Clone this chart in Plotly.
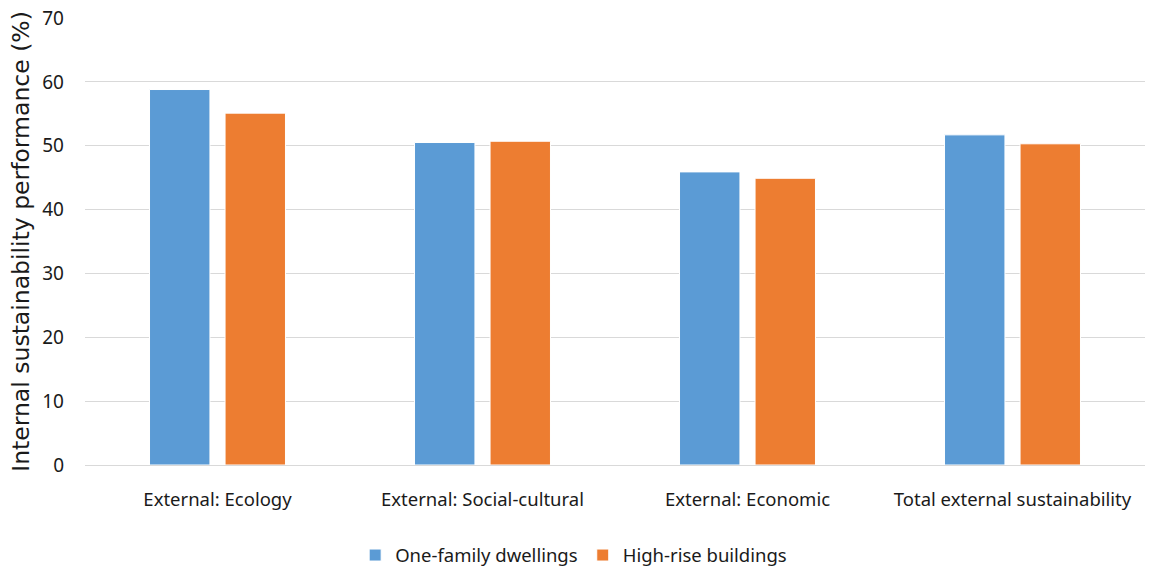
import plotly.graph_objects as go

categories = ["External: Ecology", "External: Social-cultural", "External: Economic", "Total external sustainability"]
one_family = [58.8, 50.5, 45.9, 51.7]
high_rise = [55.1, 50.7, 44.9, 50.3]
y_ticks = [0, 10, 20, 30, 40, 50, 60, 70]

fig = go.Figure()
fig.add_trace(go.Bar(x=categories, y=one_family, name="One-family dwellings",
                     marker=dict(color="#5B9BD5", line=dict(color="white", width=1))))
fig.add_trace(go.Bar(x=categories, y=high_rise, name="High-rise buildings",
                     marker=dict(color="#ED7D31", line=dict(color="white", width=1))))

font = "Noto Sans, Open Sans, sans-serif"
fig.update_layout(
    width=1157, height=575,
    margin=dict(l=85, r=12, t=18, b=110, autoexpand=False),
    paper_bgcolor="white", plot_bgcolor="white",
    barmode="group", bargap=0.43, bargroupgap=0.2,
    font=dict(family=font, size=18, color="#1a1a1a"),
    legend=dict(orientation="h", x=0.461, xanchor="center", y=-0.16, yanchor="top",
                font=dict(size=18.5), itemwidth=30, traceorder="normal"),
    xaxis=dict(showgrid=False, showline=True, linecolor="#d9d9d9", linewidth=1,
               ticks="", ticklabelstandoff=18, tickfont=dict(size=18.5)),
    yaxis=dict(range=[0, 70], tickvals=y_ticks, showgrid=True, gridcolor="#d9d9d9",
               gridwidth=1, zeroline=False, ticks="", ticklabelstandoff=20,
               tickfont=dict(size=19),
               title=dict(text="Internal sustainability performance (%)",
                          font=dict(family="DejaVu Sans, sans-serif", size=23.5), standoff=6)),
)
fig.write_html("out.html")
